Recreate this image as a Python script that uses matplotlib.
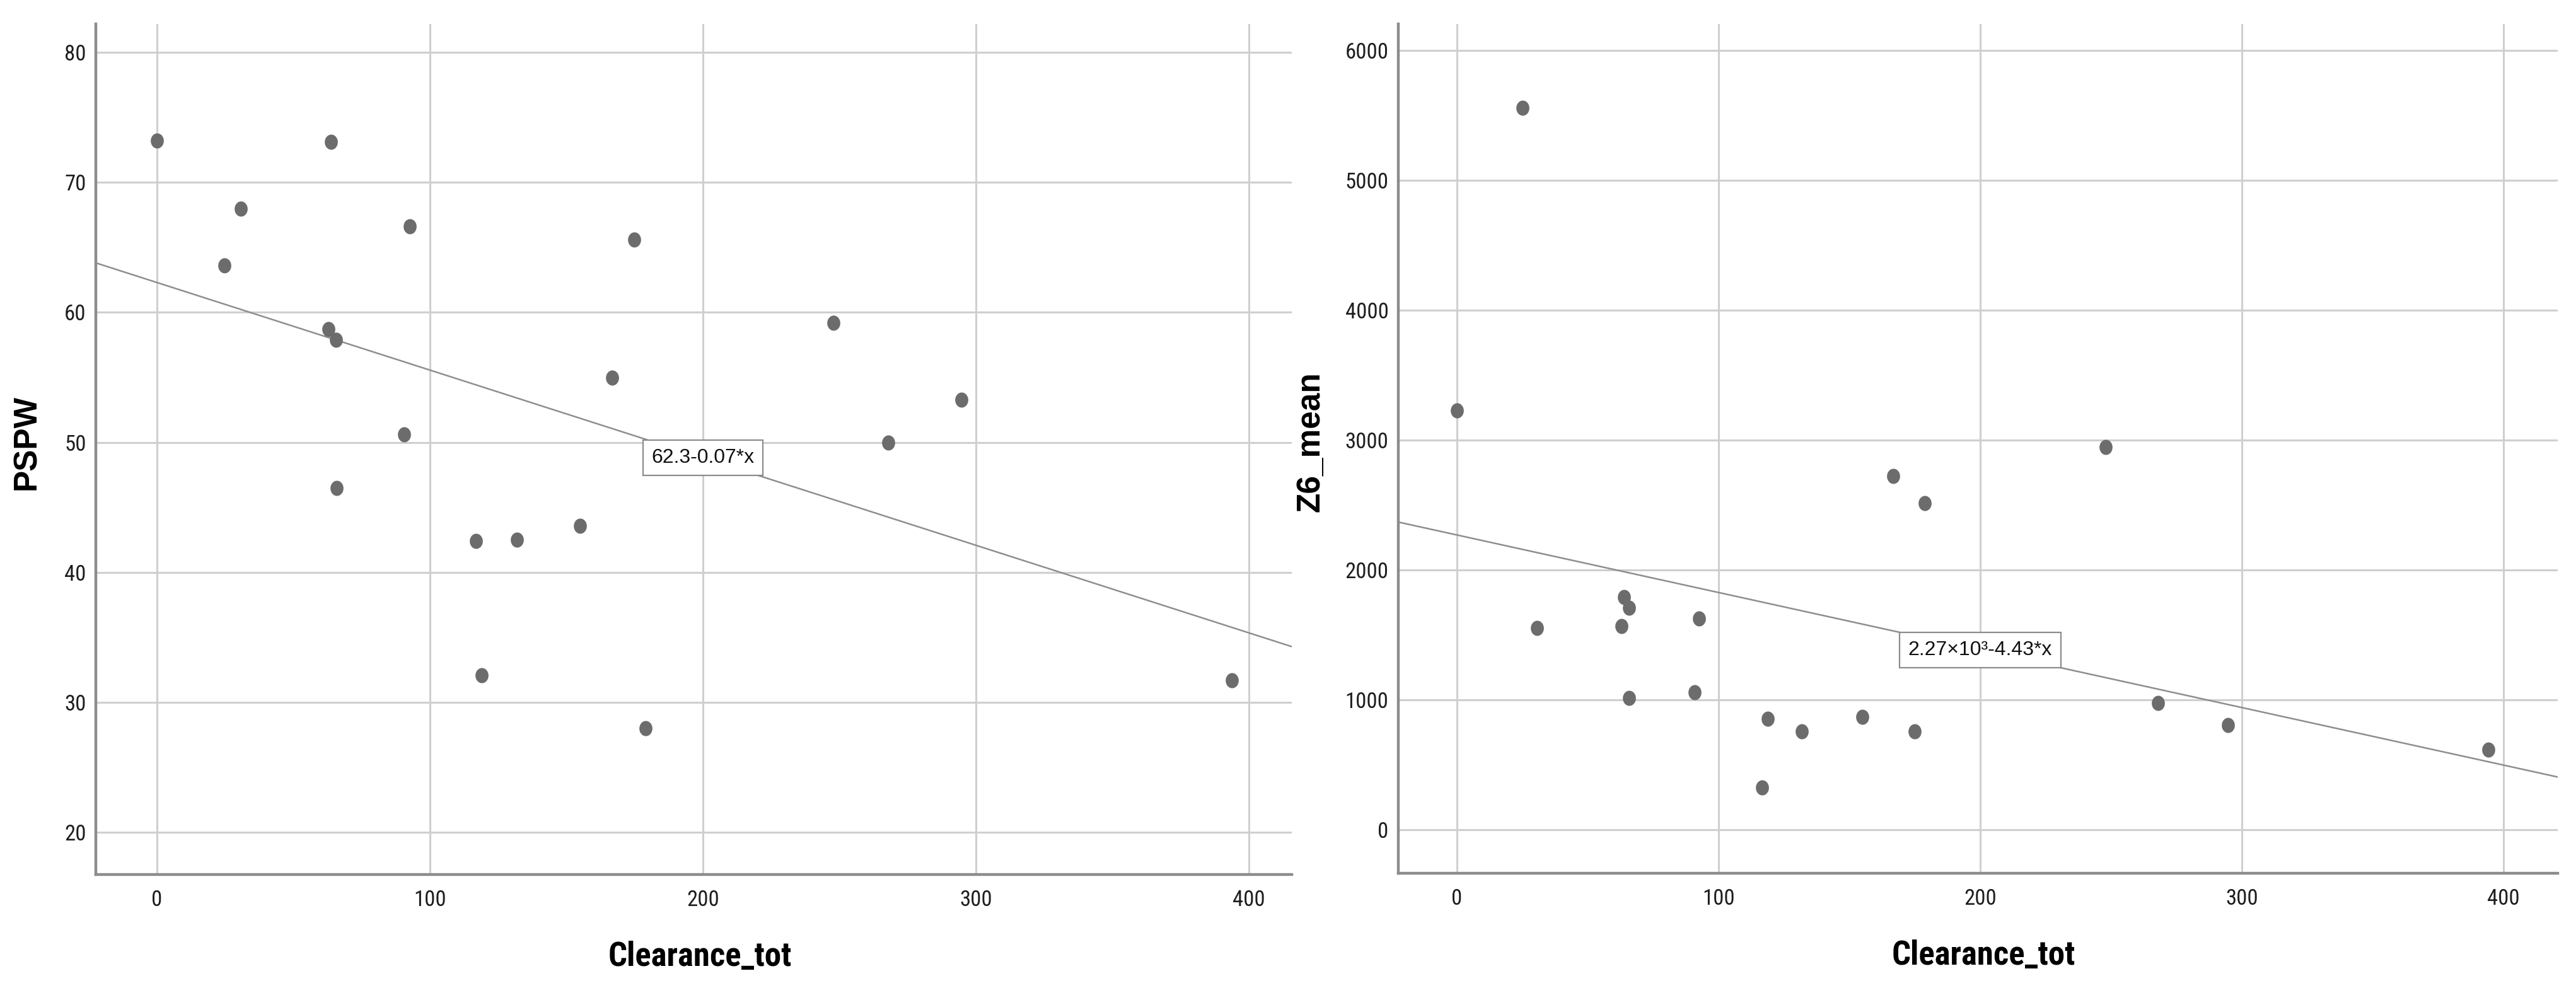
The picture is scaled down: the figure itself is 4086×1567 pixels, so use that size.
import numpy as np
import matplotlib

matplotlib.use("Agg")
import matplotlib.pyplot as plt
from matplotlib import font_manager
from matplotlib.path import Path

# values
pspw_clearance = [0, 63.7, 30.8, 24.8, 92.7, 174.8, 62.8, 65.5, 90.6, 65.8,
                  116.8, 131.9, 154.9, 166.7, 119.0, 179.0, 247.9, 267.8, 294.7, 393.7]
pspw_values = [73.2, 73.1, 68.0, 63.6, 66.6, 65.6, 58.7, 57.9, 50.6, 46.5,
               42.4, 42.5, 43.6, 55.0, 32.1, 28.0, 59.2, 50.0, 53.3, 31.7]
pspw_fit = (62.3, -0.0674)
pspw_fit_label = "62.3-0.07*x"

z6_clearance = [0, 25.0, 30.7, 62.9, 63.8, 65.7, 65.7, 92.6, 90.8, 116.7,
                118.9, 131.8, 154.9, 166.8, 175.0, 178.7, 247.9, 267.9, 294.8, 394.1]
z6_values = [3228, 5558, 1553, 1568, 1791, 1709, 1015, 1626, 1058, 325,
             854, 757, 869, 2723, 757, 2515, 2947, 976, 806, 617]
z6_fit = (2270.0, -4.43)
z6_fit_label = "2.27×10³-4.43*x"

x_ticks = [0, 100, 200, 300, 400]
pspw_ticks = [20, 30, 40, 50, 60, 70, 80]
z6_ticks = [0, 1000, 2000, 3000, 4000, 5000, 6000]

installed = {f.name for f in font_manager.fontManager.ttflist}
NARROW = "Roboto Condensed" if "Roboto Condensed" in installed else "Liberation Sans"
REGULAR = "Liberation Sans"

DOT = "#6c6c6c"
GRID = "#cfcfcf"
SPINE = "#8c8c8c"
LINE = "#8e8e8e"

# the reference is squashed horizontally, so the dots are slightly oval
t = np.linspace(0, 2 * np.pi, 60)
oval = Path(np.column_stack([0.86 * np.cos(t), np.sin(t)]), closed=True)


def draw_panel(ax, xs, ys, fit, fit_label, yticks, xlim, ylim, ylabel, ylabel_x):
    ax.set_xlim(*xlim)
    ax.set_ylim(*ylim)
    ax.set_xticks(x_ticks)
    ax.set_yticks(yticks)
    ax.grid(True, color=GRID, linewidth=2.2)
    ax.set_axisbelow(True)
    for side in ("top", "right"):
        ax.spines[side].set_visible(False)
    for side in ("left", "bottom"):
        ax.spines[side].set_color(SPINE)
        ax.spines[side].set_linewidth(3.2)
    ax.tick_params(axis="x", length=0, pad=17, labelsize=25, labelcolor="#1e1e1e")
    ax.tick_params(axis="y", length=0, pad=11, labelsize=25, labelcolor="#1e1e1e")
    for lab in ax.get_xticklabels() + ax.get_yticklabels():
        lab.set_family(NARROW)

    intercept, slope = fit
    ax.axline((0, intercept), slope=slope, color=LINE, linewidth=1.8, zorder=2)
    ax.scatter(xs, ys, s=300, marker=oval, color=DOT, linewidths=0, zorder=3)
    ax.text(200, intercept + slope * 200, fit_label, ha="center", va="center",
            fontsize=23, family=REGULAR, color="#111111", zorder=4,
            bbox=dict(boxstyle="square,pad=0.42", fc="white", ec=SPINE, lw=1.6))

    ax.set_xlabel("Clearance_tot", fontsize=38, fontweight="bold", family=NARROW)
    ax.xaxis.label.set_va("center")
    ax.xaxis.set_label_coords(0.505, -0.097)
    ax.set_ylabel(ylabel, fontsize=37, fontweight="bold", family=REGULAR)
    ax.yaxis.label.set_va("center")
    ax.yaxis.set_label_coords(ylabel_x, 0.508)


fig = plt.figure(figsize=(40.86, 15.67), dpi=100)
ax_left = fig.add_axes([0.0372, 0.1149, 0.4643, 0.8609])
ax_right = fig.add_axes([0.5428, 0.1161, 0.4501, 0.8596])

draw_panel(ax_left, pspw_clearance, pspw_values, pspw_fit, pspw_fit_label,
           pspw_ticks, (-22.4, 415.7), (16.75, 82.2), "PSPW", -0.0575)
draw_panel(ax_right, z6_clearance, z6_values, z6_fit, z6_fit_label,
           z6_ticks, (-22.4, 420.7), (-335, 6204), "Z6_mean", -0.0756)

fig.savefig("out.png", dpi=100)
plt.close(fig)
